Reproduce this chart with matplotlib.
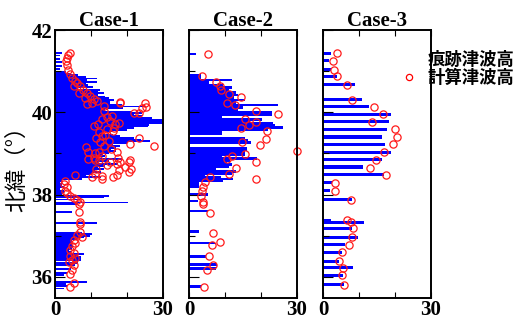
import matplotlib
matplotlib.use("Agg")
import matplotlib.pyplot as plt
from matplotlib.lines import Line2D

# ---------------- data ----------------
cases = ["Case-1", "Case-2", "Case-3"]
legend_labels = ["痕跡津波高", "計算津波高"]
ylabel_text = "北緯（°）"
ytick_vals = [36, 38, 40, 42]
xtick_vals = [0, 10, 20, 30]
xtick_labels = ["0", "", "", "30"]

# Case-1 computed tsunami height bars (latitude, height)
c1_bar_lat = [41.45, 41.38, 41.30, 41.22, 41.13, 41.05, 40.98, 40.94, 40.90, 40.86,
              40.82, 40.78, 40.74, 40.70, 40.66, 40.62, 40.58, 40.54, 40.50, 40.46,
              40.42, 40.38, 40.34, 40.30, 40.26, 40.22, 40.18, 40.14, 40.10, 40.06,
              40.02, 39.98, 39.94, 39.90, 39.86, 39.82, 39.78, 39.74, 39.70, 39.66,
              39.62, 39.58, 39.54, 39.50, 39.46, 39.42, 39.38, 39.34, 39.30, 39.26,
              39.22, 39.18, 39.14, 39.10, 39.06, 39.02, 38.98, 38.94, 38.90, 38.86,
              38.82, 38.78, 38.74, 38.70, 38.66, 38.62, 38.58, 38.54, 38.50, 38.46,
              38.42, 38.38, 38.34, 38.30, 38.26, 38.22, 38.18, 38.14, 38.10, 38.06,
              38.02, 37.97, 37.93, 37.88, 37.81, 37.77, 37.57, 37.30, 37.08, 37.04,
              37.00, 36.96, 36.92, 36.88, 36.84, 36.80, 36.76, 36.72, 36.68, 36.64,
              36.60, 36.56, 36.52, 36.48, 36.44, 36.40, 36.34, 36.28, 36.20, 36.10,
              36.04, 35.87, 35.82, 35.78, 35.72]
c1_bar_val = [1.9, 1.4, 1.4, 1.9, 1.9, 1.4, 3.0, 4.3, 6.5, 8.5,
              11.6, 9.0, 11.7, 8.5, 9.3, 10.5, 6.0, 12.5, 12.0, 13.5,
              12.0, 14.0, 15.0, 16.4, 15.4, 15.3, 18.6, 25.0, 19.0, 14.0,
              21.3, 24.3, 22.0, 24.3, 27.0, 30.3, 30.1, 30.1, 26.0, 25.9,
              22.0, 20.0, 16.0, 13.4, 16.0, 18.0, 22.0, 24.0, 26.3, 20.0,
              16.0, 18.0, 17.0, 15.5, 16.9, 15.0, 13.0, 14.0, 12.0, 18.7,
              15.0, 12.0, 17.6, 14.0, 12.0, 13.5, 11.0, 12.9, 10.2, 8.5,
              12.9, 7.5, 2.0, 1.5, 1.9, 1.9, 2.4, 1.5, 2.4, 2.4,
              2.0, 14.9, 13.5, 7.0, 20.3, 6.5, 4.8, 11.8, 7.5, 10.2,
              9.6, 8.0, 6.0, 4.7, 4.7, 4.7, 4.7, 5.0, 4.7, 4.0,
              4.5, 8.1, 6.5, 7.1, 7.1, 7.1, 6.5, 5.6, 4.5, 3.2,
              2.5, 9.0, 3.0, 3.2, 2.5]

# Case-1 observed (trace) heights (latitude, height)
c1_obs_lat = [41.44, 41.40, 41.32, 41.24, 41.16, 41.04, 40.92, 40.84, 40.76, 40.72,
              40.63, 40.63, 40.55, 40.47, 40.47, 40.39, 40.35, 40.33, 40.27, 40.25,
              40.22, 40.19, 40.22, 40.15, 40.23, 39.98, 39.98, 40.11, 40.14, 40.03,
              39.83, 39.80, 39.71, 39.75, 39.63, 39.59, 39.67, 39.51, 39.43, 39.31,
              39.27, 39.19, 39.23, 39.37, 39.17, 39.03, 39.03, 39.04, 38.95, 38.87,
              38.89, 38.83, 38.79, 38.84, 38.79, 38.83, 38.75, 38.80, 38.55, 38.59,
              38.48, 38.51, 38.43, 38.38, 38.47, 38.34, 38.27, 38.19, 38.10, 38.03,
              37.97, 37.92, 37.86, 37.82, 37.76, 37.58, 37.33, 37.29, 37.10, 36.98,
              37.02, 36.90, 36.82, 36.75, 36.66, 36.58, 36.50, 36.42, 36.46, 36.36,
              36.30, 36.18, 36.06, 35.86, 35.76, 39.88, 39.92, 39.72, 39.55, 39.45,
              39.38, 39.12, 38.90, 38.68, 38.62, 39.15, 39.00, 38.72, 38.62, 38.45,
              38.42]
c1_obs_val = [4.3, 3.6, 3.3, 3.1, 3.3, 3.6, 4.3, 4.7, 5.5, 6.1,
              7.0, 5.2, 7.9, 8.9, 6.6, 9.8, 8.4, 10.7, 11.7, 18.1,
              25.1, 8.9, 10.3, 13.5, 18.1, 21.9, 23.4, 24.2, 25.3, 13.5,
              13.0, 15.3, 16.7, 17.7, 16.3, 14.4, 10.7, 12.1, 13.0, 14.9,
              12.6, 13.5, 20.9, 23.4, 27.4, 17.2, 9.3, 12.1, 13.0, 9.3,
              10.7, 12.1, 15.4, 20.9, 18.1, 11.2, 17.2, 20.5, 20.5, 17.7,
              17.2, 11.2, 10.3, 13.1, 5.6, 2.9, 2.4, 3.3, 2.9, 3.3,
              4.3, 5.2, 6.1, 7.0, 6.6, 6.6, 7.0, 7.0, 7.0, 7.5,
              6.1, 5.2, 5.6, 4.7, 4.3, 5.2, 4.3, 4.7, 5.6, 3.8,
              5.2, 4.7, 4.3, 5.2, 4.3, 14.5, 15.8, 12.0, 16.0, 14.0,
              11.5, 15.5, 17.5, 19.5, 21.0, 8.5, 11.0, 14.5, 11.5, 13.0,
              16.0]

# Case-2 computed bars
c2_bar_lat = [41.42, 40.90, 40.84, 40.78, 40.72, 40.66, 40.60, 40.54, 40.48, 40.42,
              40.36, 40.30, 40.24, 40.18, 40.12, 40.06, 40.00, 39.94, 39.88, 39.83,
              39.78, 39.73, 39.68, 39.63, 39.58, 39.53, 39.48, 39.36, 39.31, 39.26,
              39.13, 39.08, 39.03, 38.98, 38.93, 38.88, 38.83, 38.78, 38.73, 38.68,
              38.62, 38.56, 38.51, 38.48, 38.42, 38.38, 38.34, 38.29, 38.23, 38.18,
              38.00, 37.84, 37.60, 37.10, 36.82, 36.50, 36.30, 36.20, 35.77]
c2_bar_val = [1.9, 3.3, 3.3, 11.9, 5.5, 9.5, 12.0, 11.0, 13.0, 13.5,
              12.5, 15.5, 13.0, 24.6, 15.0, 13.5, 23.0, 23.0, 9.2, 20.2,
              17.0, 23.3, 24.0, 26.2, 22.0, 9.2, 9.2, 15.5, 16.5, 17.3,
              16.2, 16.2, 15.5, 15.5, 9.1, 19.0, 11.5, 10.5, 11.9, 11.2,
              7.4, 13.1, 12.0, 4.5, 8.9, 12.1, 9.4, 2.9, 2.9, 2.9,
              5.2, 2.4, 5.2, 2.7, 7.1, 4.7, 7.9, 7.6, 3.3]

# Case-2 observed
c2_obs_lat = [41.41, 40.88, 40.73, 40.65, 40.55, 40.45, 40.37, 40.23, 40.17, 40.03,
              39.97, 39.83, 39.77, 39.69, 39.63, 39.55, 39.27, 39.34, 39.21, 39.06,
              38.99, 38.93, 38.87, 38.79, 38.65, 38.51, 38.43, 38.37, 38.31, 38.18,
              38.10, 37.96, 37.82, 37.76, 37.55, 37.07, 36.86, 36.78, 36.52, 36.30,
              36.17, 35.75]
c2_obs_val = [5.2, 3.7, 7.5, 8.6, 8.8, 11.2, 14.4, 10.6, 12.8, 18.6,
              24.6, 15.6, 18.6, 16.8, 14.4, 21.6, 14.8, 21.4, 19.7, 29.9,
              15.6, 12.0, 10.5, 18.6, 13.0, 11.2, 5.8, 18.6, 4.4, 4.0,
              3.5, 3.3, 3.8, 4.0, 5.8, 6.8, 8.6, 6.3, 5.6, 6.6,
              5.1, 4.3]

# Case-3 computed bars
c3_bar_lat = [41.44, 41.26, 41.05, 40.86, 40.68, 40.31, 40.15, 39.95, 39.77, 39.59,
              39.40, 39.22, 39.03, 38.85, 38.67, 38.48, 38.29, 38.10, 37.88, 37.38,
              37.33, 37.18, 36.96, 36.78, 36.60, 36.38, 36.23, 36.04, 35.81]
c3_bar_val = [2.1, 1.8, 2.1, 3.8, 8.9, 10.7, 12.9, 18.9, 18.4, 17.9,
              16.3, 17.2, 18.9, 16.3, 11.2, 16.9, 2.4, 2.0, 8.0, 2.1,
              11.4, 8.0, 9.8, 6.1, 5.2, 4.5, 8.2, 5.5, 5.7]

# Case-3 observed
c3_obs_lat = [41.44, 41.24, 41.04, 40.88, 40.67, 40.31, 40.13, 39.95, 39.77, 39.59,
              39.41, 39.22, 39.04, 38.84, 38.65, 38.47, 38.28, 38.08, 37.88, 37.38,
              37.33, 37.18, 36.96, 36.78, 36.60, 36.38, 36.22, 36.04, 35.80]
c3_obs_val = [3.8, 2.9, 3.0, 3.9, 6.8, 8.0, 14.3, 16.6, 13.5, 20.0,
              20.5, 19.5, 16.9, 14.6, 13.1, 17.5, 3.3, 3.4, 7.8, 6.8,
              7.7, 8.2, 8.0, 7.2, 5.2, 4.5, 5.5, 5.4, 5.7]

bars = [(c1_bar_lat, c1_bar_val, 0.045), (c2_bar_lat, c2_bar_val, 0.062), (c3_bar_lat, c3_bar_val, 0.075)]
obs = [(c1_obs_lat, c1_obs_val), (c2_obs_lat, c2_obs_val), (c3_obs_lat, c3_obs_val)]

# ---------------- figure ----------------
W, H = 518, 324
fig = plt.figure(figsize=(W / 100, H / 100), dpi=100)

serif_bold = dict(family="Liberation Serif", weight="bold")
lefts = [55, 189, 323]
pw = 108
top_px, bot_px = 30, 297.5

axes = []
for i, left in enumerate(lefts):
    ax = fig.add_axes([left / W, 1 - bot_px / H, pw / W, (bot_px - top_px) / H])
    lat, val, h = bars[i]
    ax.barh(lat, val, height=h, color="#0000ff", linewidth=0)
    olat, oval = obs[i]
    ax.plot(oval, olat, "o", ls="none", mfc="none", mec="#ff1a1a", mew=0.9, ms=5.2,
            clip_on=False)
    ax.set_xlim(0, 30)
    ax.set_ylim(35.5, 42)
    ax.set_xticks(xtick_vals)
    ax.set_xticklabels(xtick_labels, **serif_bold, fontsize=15)
    ax.set_yticks(ytick_vals)
    ax.set_yticks([37, 39, 41], minor=True)
    if i == 0:
        ax.set_yticklabels([str(v) for v in ytick_vals], **serif_bold, fontsize=15)
    else:
        ax.set_yticklabels([])
    ax.tick_params(axis="x", which="major", direction="in", length=4, width=0.8,
                   top=True, pad=2)
    ax.tick_params(axis="y", which="major", direction="in", length=7, width=0.8, pad=2)
    ax.tick_params(axis="y", which="minor", direction="in", length=4, width=0.8)
    for s in ax.spines.values():
        s.set_linewidth(1.4)
        s.set_color("black")
    ax.set_title(cases[i], **serif_bold, fontsize=15, pad=3)
    axes.append(ax)

axes[0].set_ylabel(ylabel_text, family=["Noto Sans CJK JP", "DejaVu Sans"],
                   fontsize=16, labelpad=2)

handles = [Line2D([], [], color="none"),
           Line2D([], [], marker="o", ls="none", mfc="none", mec="#ff0000", mew=0.9, ms=4.5)]
fig.legend(handles, legend_labels, loc="upper left",
           bbox_to_anchor=(400 / W, 1 - 51 / H), frameon=False,
           prop=dict(family=["Noto Sans CJK JP", "DejaVu Sans"], weight="bold", size=12.5),
           handlelength=1.0, handletextpad=0.6, labelspacing=-0.02, borderpad=0,
           borderaxespad=0)

fig.savefig("out.png", dpi=100)
